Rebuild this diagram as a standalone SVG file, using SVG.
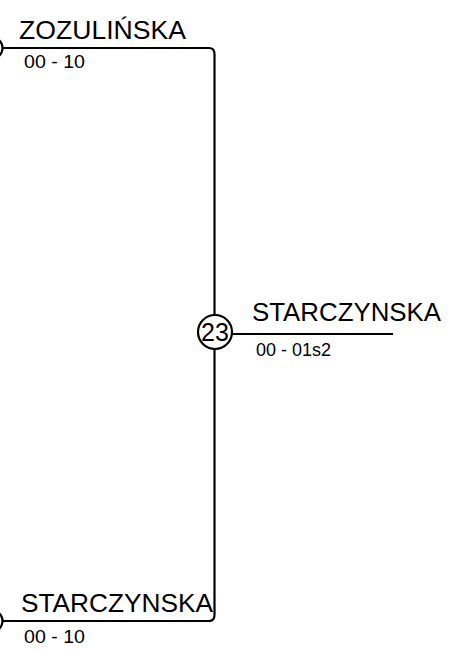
<svg xmlns="http://www.w3.org/2000/svg" width="461" height="652" viewBox="0 0 461 652">
<style>
.ln{fill:none;stroke:#000;stroke-width:2.2}
.big{font-family:"Liberation Sans",Arial,sans-serif;font-size:25px;fill:#000}
.sm{font-family:"Liberation Sans",Arial,sans-serif;font-size:18px;fill:#000}
</style>
<rect width="461" height="652" fill="#fff"/>
<g id="connectors">
<path class="ln" d="M2,48 H209 Q214.5,48 214.5,54 V615 Q214.5,621 209,621 H2"/>
<line class="ln" x1="232" y1="334" x2="393" y2="334"/>
</g>
<g id="node-top">
<circle class="ln" cx="-8" cy="48" r="10.5"/>
<text class="big" x="19" y="38.5" textLength="167" lengthAdjust="spacingAndGlyphs">ZOZULIŃSKA</text>
<text class="sm" x="24" y="68" textLength="61" lengthAdjust="spacingAndGlyphs">00 - 10</text>
</g>
<g id="node-23">
<circle class="ln" cx="215" cy="332" r="17" style="fill:#fff"/>
<text class="big" x="215" y="341" text-anchor="middle">23</text>
</g>
<g id="node-right">
<text class="big" x="252" y="321" textLength="189" lengthAdjust="spacingAndGlyphs">STARCZYNSKA</text>
<text class="sm" x="256" y="356">00 - 01s2</text>
</g>
<g id="node-bottom">
<circle class="ln" cx="-8" cy="621" r="10.5"/>
<text class="big" x="21" y="612" textLength="192" lengthAdjust="spacingAndGlyphs">STARCZYNSKA</text>
<text class="sm" x="24" y="643" textLength="61" lengthAdjust="spacingAndGlyphs">00 - 10</text>
</g>
</svg>
